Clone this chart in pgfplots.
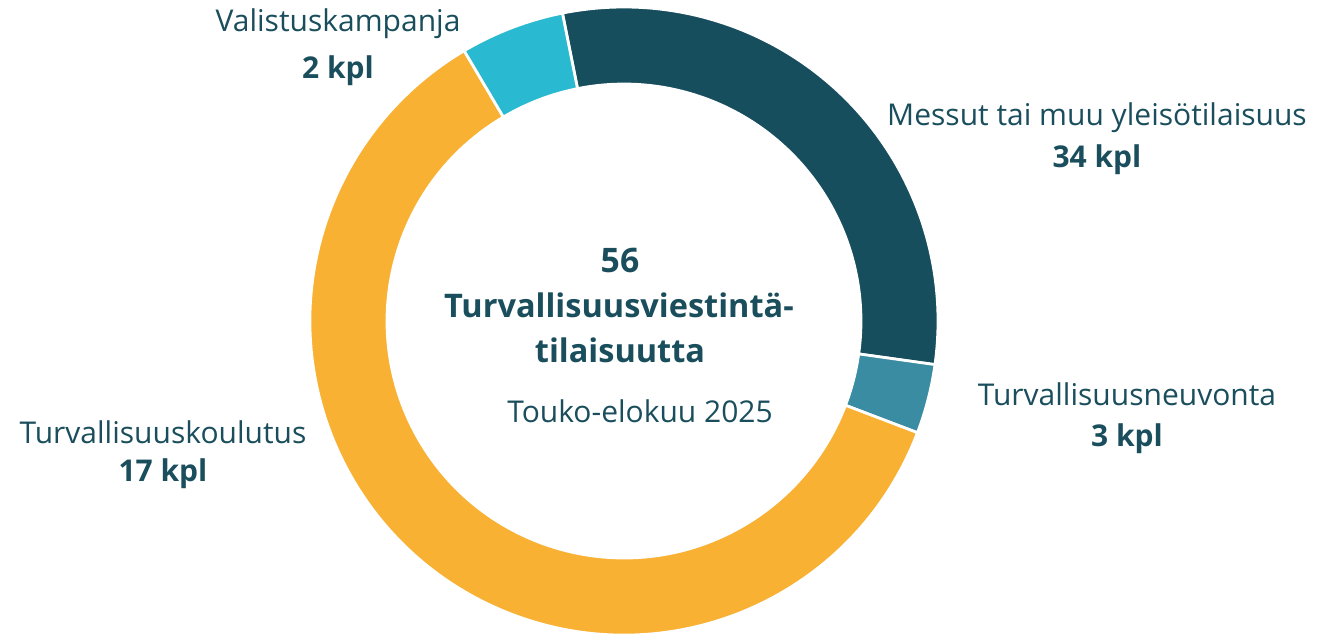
\documentclass[border=0pt]{standalone}
\usepackage{pgfplots}
\pgfplotsset{compat=1.18}
\usepackage{pgfplotstable}
\usepackage{fontspec}
\setmainfont{Open Sans}
\definecolor{txt}{HTML}{1A4E5C}
\definecolor{cdark}{HTML}{174E5E}
\definecolor{cneuv}{HTML}{3A8CA2}
\definecolor{cyel}{HTML}{F8B133}
\definecolor{cval}{HTML}{29B9D0}
\pgfplotstableread{
label value
Messut 17
Neuvonta 2
Koulutus 34
Valistus 3
}\donut
\begin{document}
\begin{tikzpicture}
\pgfplotstablegetelem{0}{value}\of\donut \let\vA\pgfplotsretval
\pgfplotstablegetelem{1}{value}\of\donut \let\vB\pgfplotsretval
\pgfplotstablegetelem{2}{value}\of\donut \let\vC\pgfplotsretval
\pgfplotstablegetelem{3}{value}\of\donut \let\vD\pgfplotsretval
\pgfmathsetmacro\tot{\vA+\vB+\vC+\vD}
\pgfmathsetmacro\aA{101.3}
\pgfmathsetmacro\aB{\aA-\vA/\tot*360}
\pgfmathsetmacro\aC{\aB-\vB/\tot*360}
\pgfmathsetmacro\aD{\aC-\vC/\tot*360}
\pgfmathsetmacro\aE{\aD-\vD/\tot*360}
\def\Ro{125.6pt}
\def\Ri{94.8pt}
\def\Rw{-30.8pt}
\begin{axis}[
  scale only axis, width=533.2pt, height=254pt,
  xmin=0, xmax=1333, ymin=0, ymax=635,
  hide axis, clip=false,
]
\filldraw[fill=cdark, draw=white, line width=1.1pt] (axis cs:624,314) ++(\aA:\Ro) arc[start angle=\aA, end angle=\aB, radius=\Ro] -- ++(\aB:\Rw) arc[start angle=\aB, end angle=\aA, radius=\Ri] -- cycle;
\filldraw[fill=cneuv, draw=white, line width=1.1pt] (axis cs:624,314) ++(\aB:\Ro) arc[start angle=\aB, end angle=\aC, radius=\Ro] -- ++(\aC:\Rw) arc[start angle=\aC, end angle=\aB, radius=\Ri] -- cycle;
\filldraw[fill=cyel, draw=white, line width=1.1pt] (axis cs:624,314) ++(\aC:\Ro) arc[start angle=\aC, end angle=\aD, radius=\Ro] -- ++(\aD:\Rw) arc[start angle=\aD, end angle=\aC, radius=\Ri] -- cycle;
\filldraw[fill=cval, draw=white, line width=1.1pt] (axis cs:624,314) ++(\aD:\Ro) arc[start angle=\aD, end angle=\aE, radius=\Ro] -- ++(\aE:\Rw) arc[start angle=\aE, end angle=\aD, radius=\Ri] -- cycle;
\begin{scope}[every node/.style={text=txt, font=\fontsize{12}{14}\selectfont, inner sep=0pt, anchor=center}]
\node at (axis cs:338,611) {Valistuskampanja};
\node at (axis cs:338,564) {\bfseries 2 kpl};
\node at (axis cs:1097,517) {Messut tai muu yleisötilaisuus};
\node at (axis cs:1097,475) {\bfseries 34 kpl};
\node at (axis cs:1127,241) {Turvallisuusneuvonta};
\node at (axis cs:1127,196) {\bfseries 3 kpl};
\node at (axis cs:163,203) {Turvallisuuskoulutus};
\node at (axis cs:163,161) {\bfseries 17 kpl};
\node[font=\fontsize{13.5}{16}\selectfont\bfseries] at (axis cs:620,375) {56};
\node[font=\fontsize{13}{16}\selectfont\bfseries] at (axis cs:619,330) {Turvallisuusviestintä-};
\node[font=\fontsize{13}{16}\selectfont\bfseries] at (axis cs:620,285) {tilaisuutta};
\node at (axis cs:640,224) {Touko-elokuu 2025};
\end{scope}
\end{axis}
\pgfresetboundingbox
\path[use as bounding box] (current axis.south west) rectangle (current axis.north east);
\end{tikzpicture}
\end{document}
